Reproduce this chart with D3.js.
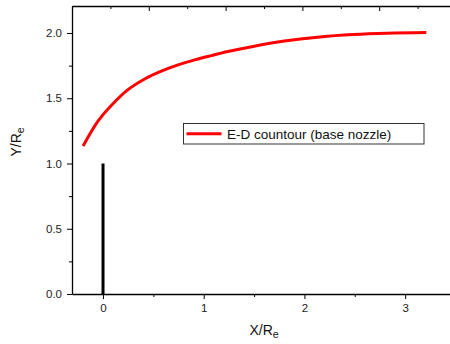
<!DOCTYPE html>
<html>
<head>
<meta charset="utf-8">
<script src="https://cdn.jsdelivr.net/npm/d3@7"></script>
<style>
  html, body { margin: 0; padding: 0; background: #fff; }
  svg { display: block; font-family: "Liberation Sans", Arial, sans-serif; }
  .axis text { font-size: 11.5px; fill: #222; }
  .axis path, .axis line { stroke: #000; }
</style>
</head>
<body>
<div id="chart"></div>
<script>
// E-D contour plot

// red contour (x / Re, y / Re)
const contourX = [-0.198, -0.05, 0.082, 0.248, 0.414, 0.579, 0.745, 0.91, 1.076, 1.241, 1.49, 1.82, 2.155, 2.486, 2.82, 3.21];
const contourY = [1.134, 1.325, 1.445, 1.566, 1.648, 1.708, 1.756, 1.794, 1.827, 1.858, 1.897, 1.940, 1.970, 1.988, 1.998, 2.003];

// black throat line
const throatX = [0, 0];
const throatY = [0, 1.0];

const xTicks = [0, 1, 2, 3];
const xMinor = [0.5, 1.5, 2.5];
const yTicks = [0, 0.5, 1.0, 1.5, 2.0];
const yMinor = [0.25, 0.75, 1.25, 1.75];
const topTicks = [0, 1, 2, 3, 4, 5];
const topMinor = [0.5, 1.5, 2.5, 3.5, 4.5];

const legendLabel = "E-D countour (base nozzle)";

const width = 450;
const height = 344;
const margin = { top: 6, right: -6, bottom: 50, left: 72 };
const innerWidth = width - margin.left - margin.right;
const innerHeight = height - margin.top - margin.bottom;

const svg = d3.select("#chart").append("svg")
    .attr("width", width)
    .attr("height", height);

const g = svg.append("g")
    .attr("transform", `translate(${margin.left},${margin.top})`);

const xScale = d3.scaleLinear()
    .domain([-0.308, 3.505])
    .range([0, innerWidth]);

const yScale = d3.scaleLinear()
    .domain([0, 2.207])
    .range([innerHeight, 0]);

const topScale = d3.scaleLinear()
    .domain([0, 5])
    .range([0, innerWidth]);

// bottom axis
g.append("g")
    .attr("class", "axis")
    .attr("transform", `translate(0,${innerHeight})`)
    .call(d3.axisBottom(xScale).tickValues(xMinor).tickSize(3))
    .call(a => a.select(".domain").remove())
    .call(a => a.selectAll("text").remove());

g.append("g")
    .attr("class", "axis")
    .attr("transform", `translate(0,${innerHeight})`)
    .call(d3.axisBottom(xScale).tickValues(xTicks).tickSize(5).tickSizeOuter(0).tickPadding(5).tickFormat(d3.format("d")))
    .call(a => a.select(".domain").attr("stroke-width", 1.3));

// left axis
g.append("g")
    .attr("class", "axis")
    .call(d3.axisLeft(yScale).tickValues(yMinor).tickSize(3))
    .call(a => a.select(".domain").remove())
    .call(a => a.selectAll("text").remove());

g.append("g")
    .attr("class", "axis")
    .call(d3.axisLeft(yScale).tickValues(yTicks).tickSize(5).tickSizeOuter(0).tickPadding(5).tickFormat(d3.format(".1f")))
    .call(a => a.select(".domain").attr("stroke-width", 1.3));

// top axis, ticks pointing inward, no labels
g.append("g")
    .attr("class", "axis")
    .call(d3.axisBottom(topScale).tickValues(topMinor).tickSize(3))
    .call(a => a.select(".domain").remove())
    .call(a => a.selectAll("text").remove());

g.append("g")
    .attr("class", "axis")
    .call(d3.axisBottom(topScale).tickValues(topTicks).tickSize(5).tickSizeOuter(0))
    .call(a => a.select(".domain").attr("stroke-width", 1.3))
    .call(a => a.selectAll("text").remove());

// throat line
const throat = throatX.map((x, i) => ({ x, y: throatY[i] }));
g.append("path")
    .datum(throat)
    .attr("fill", "none")
    .attr("stroke", "#000")
    .attr("stroke-width", 3)
    .attr("d", d3.line().x(d => xScale(d.x)).y(d => yScale(d.y)));

// contour curve
const contour = contourX.map((x, i) => ({ x, y: contourY[i] }));
g.append("path")
    .datum(contour)
    .attr("fill", "none")
    .attr("stroke", "#ff0000")
    .attr("stroke-width", 3)
    .attr("d", d3.line().x(d => xScale(d.x)).y(d => yScale(d.y)).curve(d3.curveCatmullRom.alpha(0.5)));

// legend
const legend = g.append("g")
    .attr("transform", `translate(${183.5 - margin.left},${123.5 - margin.top})`);

legend.append("rect")
    .attr("width", 240.5)
    .attr("height", 20.5)
    .attr("fill", "#fff")
    .attr("stroke", "#333")
    .attr("stroke-width", 1);

legend.append("line")
    .attr("x1", 3).attr("x2", 38)
    .attr("y1", 10.3).attr("y2", 10.3)
    .attr("stroke", "#ff0000")
    .attr("stroke-width", 3);

legend.append("text")
    .attr("x", 43.5)
    .attr("y", 15)
    .attr("font-size", 13.5)
    .attr("fill", "#111")
    .text(legendLabel);

// axis titles
const xTitle = svg.append("text")
    .attr("x", 264)
    .attr("y", 335)
    .attr("text-anchor", "middle")
    .attr("font-size", 14)
    .attr("fill", "#111");
xTitle.append("tspan").text("X/R");
xTitle.append("tspan").attr("font-size", 10.5).attr("dy", 3).text("e");

const yTitle = svg.append("text")
    .attr("transform", "translate(21,142) rotate(-90)")
    .attr("text-anchor", "middle")
    .attr("font-size", 14)
    .attr("fill", "#111");
yTitle.append("tspan").text("Y/R");
yTitle.append("tspan").attr("font-size", 10.5).attr("dy", 3).text("e");
</script>
</body>
</html>
